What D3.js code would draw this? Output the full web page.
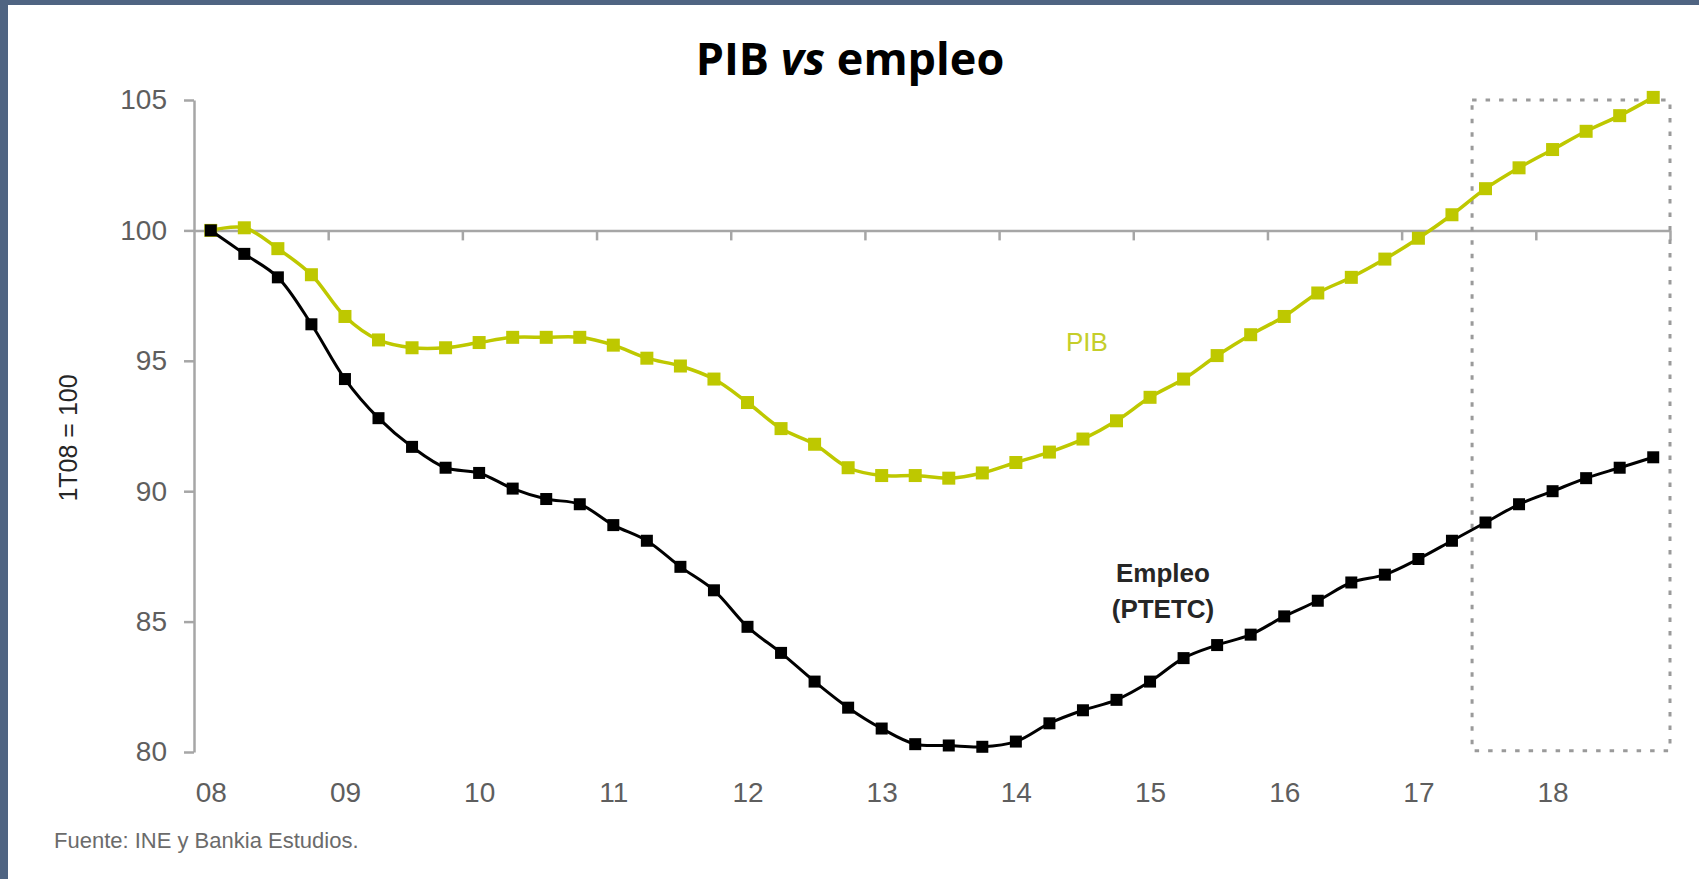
<!DOCTYPE html>
<html>
<head>
<meta charset="utf-8">
<script src="https://cdnjs.cloudflare.com/ajax/libs/d3/7.8.5/d3.min.js"></script>
<style>
  body { margin: 0; background: #ffffff; }
  svg { display: block; }
  .tick text { font-family: "Liberation Sans", Arial, sans-serif; fill: #5e5e5e; }
</style>
</head>
<body>
<div id="chart"></div>
<script>
// quarters 1T08 .. 4T18
var years = ["08", "09", "10", "11", "12", "13", "14", "15", "16", "17", "18"];
var quarters = [];
years.forEach(function(yr) {
    [1, 2, 3, 4].forEach(function(q) { quarters.push(q + "T" + yr); });
});

var pib = [100.0, 100.1, 99.3, 98.3, 96.7, 95.8, 95.5, 95.5,
    95.7, 95.9, 95.9, 95.9, 95.6, 95.1, 94.8, 94.3,
    93.4, 92.4, 91.8, 90.9, 90.6, 90.6, 90.5, 90.7,
    91.1, 91.5, 92.0, 92.7, 93.6, 94.3, 95.2, 96.0,
    96.7, 97.6, 98.2, 98.9, 99.7, 100.6, 101.6, 102.4,
    103.1, 103.8, 104.4, 105.1];

var empleo = [100.0, 99.1, 98.2, 96.4, 94.3, 92.8, 91.7, 90.9,
    90.7, 90.1, 89.7, 89.5, 88.7, 88.1, 87.1, 86.2,
    84.8, 83.8, 82.7, 81.7, 80.9, 80.3, 80.25, 80.2,
    80.4, 81.1, 81.6, 82.0, 82.7, 83.6, 84.1, 84.5,
    85.2, 85.8, 86.5, 86.8, 87.4, 88.1, 88.8, 89.5,
    90.0, 90.5, 90.9, 91.3];

var yTicks = [80, 85, 90, 95, 100, 105];

// forecast box (index of quarters, values)
var boxFrom = 37.6;
var boxTo = 43.5;
var boxTop = 105;
var boxBottom = 80.05;

var svgWidth = 1699;
var svgHeight = 879;

var svg = d3.select("#chart").append("svg")
    .attr("width", svgWidth)
    .attr("height", svgHeight);

// frame
svg.append("rect").attr("x", 0).attr("y", 0).attr("width", svgWidth).attr("height", 5).attr("fill", "#4f6482");
svg.append("rect").attr("x", 0).attr("y", 0).attr("width", 8).attr("height", svgHeight).attr("fill", "#4f6482");

var xIdx = d3.scaleLinear()
    .domain([-0.5, quarters.length - 0.5])
    .range([194, 1670]);

var yLinearScale = d3.scaleLinear()
    .domain([80, 105])
    .range([752, 100]);

// title
svg.append("text")
    .attr("x", 850)
    .attr("y", 75)
    .attr("text-anchor", "middle")
    .style("font-family", "'Open Sans', sans-serif")
    .style("font-weight", "700")
    .style("font-size", "45px")
    .attr("fill", "#000")
    .html("PIB <tspan font-style='italic'>vs</tspan> empleo");

// y axis
var leftAxis = d3.axisLeft(yLinearScale)
    .tickValues(yTicks)
    .tickSize(10)
    .tickSizeOuter(0)
    .tickPadding(17);

var yAxis = svg.append("g")
    .attr("transform", "translate(194,0)")
    .call(leftAxis);

yAxis.selectAll("text").style("font-size", "28px");
yAxis.selectAll("line, path").attr("stroke", "#a6a6a6").attr("stroke-width", 2.5);

// x axis along 100 line, ticks between years
var boundaries = years.map(function(d, i) { return i * 4 + 3.5; });
var bottomAxis = d3.axisBottom(xIdx)
    .tickValues(boundaries)
    .tickFormat("")
    .tickSize(10)
    .tickSizeOuter(0);

var xAxis = svg.append("g")
    .attr("transform", "translate(0," + yLinearScale(100) + ")")
    .call(bottomAxis);
xAxis.selectAll("line, path").attr("stroke", "#a6a6a6").attr("stroke-width", 2.5);

// year labels at bottom
var labelAxis = d3.axisBottom(xIdx)
    .tickValues(years.map(function(d, i) { return i * 4; }))
    .tickFormat(function(d) { return years[d / 4]; })
    .tickSize(0)
    .tickPadding(0);

var xLabels = svg.append("g")
    .attr("transform", "translate(0,782)")
    .call(labelAxis);
xLabels.select(".domain").remove();
xLabels.selectAll("text").style("font-size", "28px");

// y axis title
svg.append("text")
    .attr("transform", "translate(77,438) rotate(-90)")
    .attr("text-anchor", "middle")
    .style("font-family", "'Liberation Sans', Arial, sans-serif")
    .style("font-size", "25px")
    .attr("fill", "#262626")
    .text("1T08 = 100");

// forecast box
svg.append("rect")
    .attr("x", xIdx(boxFrom))
    .attr("y", yLinearScale(boxTop))
    .attr("width", xIdx(boxTo) - xIdx(boxFrom))
    .attr("height", yLinearScale(boxBottom) - yLinearScale(boxTop))
    .attr("fill", "none")
    .attr("stroke", "#9a9a9a")
    .attr("stroke-width", 3)
    .attr("stroke-dasharray", "4.5 9");

// lines
var line = d3.line()
    .x(function(d, i) { return xIdx(i); })
    .y(function(d) { return yLinearScale(d); })
    .curve(d3.curveCatmullRom.alpha(0.5));

function drawSeries(values, color, width, size) {
    svg.append("path")
        .datum(values)
        .attr("d", line)
        .attr("fill", "none")
        .attr("stroke", color)
        .attr("stroke-width", width);

    svg.append("g").selectAll("rect")
        .data(values)
        .enter()
        .append("rect")
        .attr("x", function(d, i) { return xIdx(i) - size / 2; })
        .attr("y", function(d) { return yLinearScale(d) - size / 2; })
        .attr("width", size)
        .attr("height", size)
        .attr("fill", color);
}

drawSeries(pib, "#bec800", 3.5, 13);
drawSeries(empleo, "#000000", 3, 12);

// series labels
svg.append("text")
    .attr("x", 1087)
    .attr("y", 351)
    .attr("text-anchor", "middle")
    .style("font-family", "'Liberation Sans', Arial, sans-serif")
    .style("font-size", "26px")
    .attr("fill", "#c5ce2a")
    .text("PIB");

var empLabel = svg.append("text")
    .attr("text-anchor", "middle")
    .style("font-family", "'Liberation Sans', Arial, sans-serif")
    .style("font-weight", "700")
    .style("font-size", "26px")
    .attr("fill", "#262626");
empLabel.append("tspan").attr("x", 1163).attr("y", 582).text("Empleo");
empLabel.append("tspan").attr("x", 1163).attr("y", 618).text("(PTETC)");

// source
svg.append("text")
    .attr("x", 54)
    .attr("y", 848)
    .style("font-family", "'Liberation Sans', Arial, sans-serif")
    .style("font-size", "22px")
    .attr("fill", "#6b6b6b")
    .text("Fuente: INE y Bankia Estudios.");
</script>
</body>
</html>
